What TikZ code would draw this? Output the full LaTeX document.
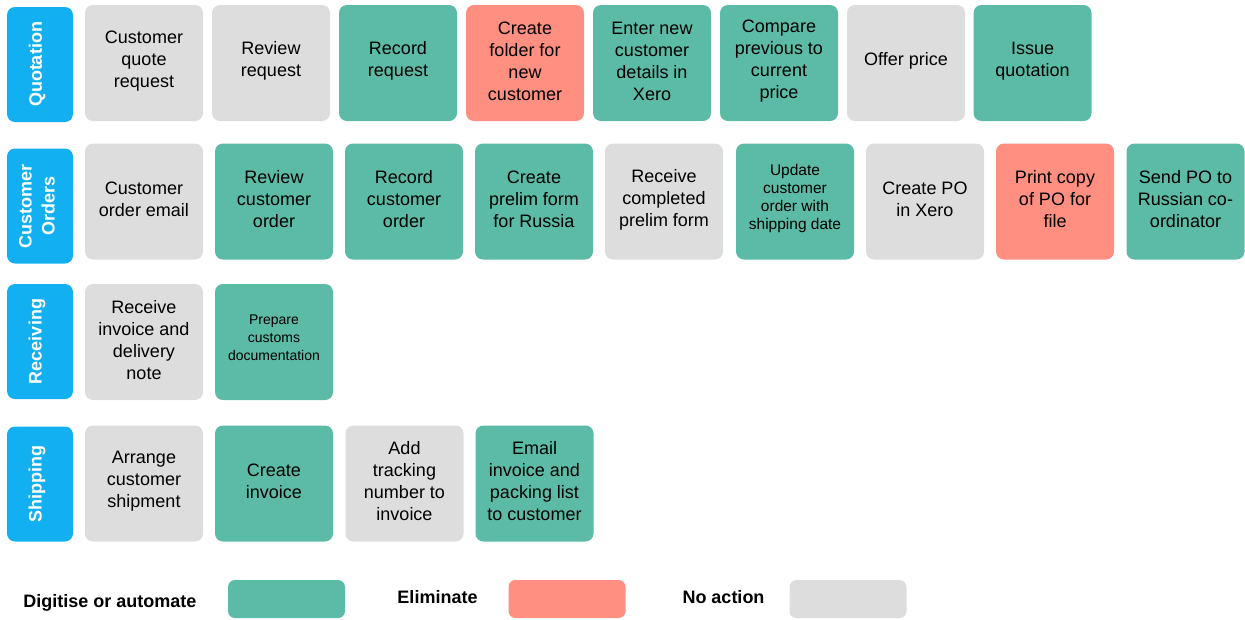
\documentclass[tikz,border=0pt]{standalone}
\usepackage{fontspec}
\setmainfont{Liberation Sans}
\definecolor{lane}{HTML}{12B0F0}
\definecolor{dig}{HTML}{5BBBA6}
\definecolor{elim}{HTML}{FF8F80}
\definecolor{noact}{HTML}{DDDDDD}
\tikzset{
  box/.style={rounded corners=8pt, draw=none, minimum width=118pt, minimum height=116pt, inner sep=0pt},
  txt/.style={align=center, inner sep=0pt, text=black, font=\fontsize{18}{22}\selectfont},
  small/.style={font=\fontsize{15.5}{18}\selectfont, yshift=1pt},
  tiny/.style={font=\fontsize{14}{18}\selectfont, yshift=2.5pt},
  lanebox/.style={rounded corners=8pt, draw=none, fill=lane, minimum width=66pt, minimum height=115pt, inner sep=0pt},
  lanetxt/.style={align=center, inner sep=0pt, text=white, rotate=90, font=\bfseries\fontsize{18}{23}\selectfont},
  legtxt/.style={inner sep=0pt, text=black, font=\bfseries\fontsize{18}{21}\selectfont},
  legbox/.style={rounded corners=7pt, draw=none, minimum width=117pt, minimum height=38pt, inner sep=0pt}
}
\newcommand\bx[6][]{\node[box,fill=#5] (#2) at (#3,#4) {};
  \node[txt,#1] (#2t) at ([yshift=2pt]#2.center) {#6};}
\begin{document}
\begin{tikzpicture}[x=1pt,y=-1pt]
\useasboundingbox (0,0) rectangle (1245,619);
% lanes
\node[lanebox] (l1) at (40,64.5) {};
\node[lanetxt] (l1t) at (37,64.5) {Quotation};
\node[lanebox] (l2) at (40,206) {};
\node[lanetxt] (l2t) at (37,206) {Customer\\Orders};
\node[lanebox] (l3) at (40,341.5) {};
\node[lanetxt] (l3t) at (37,341.5) {Receiving};
\node[lanebox] (l4) at (40,484) {};
\node[lanetxt] (l4t) at (37,484) {Shipping};
% row 1
\bx{a1}{144}{63}{noact}{Customer\\quote\\request}
\bx{a2}{271}{63}{noact}{Review\\request}
\bx{a3}{398}{63}{dig}{Record\\request}
\bx{a4}{525}{63}{elim}{Create\\folder for\\new\\customer}
\bx{a5}{652}{63}{dig}{Enter new\\customer\\details in\\Xero}
\bx{a6}{779}{63}{dig}{Compare\\previous to\\current\\price}
\bx{a7}{906}{63}{noact}{Offer price}
\bx{a8}{1032.5}{63}{dig}{Issue\\quotation}
% row 2
\bx{b1}{144}{201.5}{noact}{Customer\\order email}
\bx{b2}{274}{201.5}{dig}{Review\\customer\\order}
\bx{b3}{404}{201.5}{dig}{Record\\customer\\order}
\bx{b4}{534}{201.5}{dig}{Create\\prelim form\\for Russia}
\bx{b5}{664}{201.5}{noact}{Receive\\completed\\prelim form}
\bx[small]{b6}{795}{201.5}{dig}{Update\\customer\\order with\\shipping date}
\bx{b7}{925}{201.5}{noact}{Create PO\\in Xero}
\bx{b8}{1055}{201.5}{elim}{Print copy\\of PO for\\file}
\bx{b9}{1185.5}{201.5}{dig}{Send PO to\\Russian co-\\ordinator}
% row 3
\bx{c1}{144}{342}{noact}{Receive\\invoice and\\delivery\\note}
\bx[tiny]{c2}{274}{342}{dig}{Prepare\\customs\\documentation}
% row 4
\bx{d1}{144}{483.5}{noact}{Arrange\\customer\\shipment}
\bx{d2}{274}{483.5}{dig}{Create\\invoice}
\bx{d3}{404.5}{483.5}{noact}{Add\\tracking\\number to\\invoice}
\bx{d4}{534.5}{483.5}{dig}{Email\\invoice and\\packing list\\to customer}
% legend
\node[legtxt] (k1) at (110,603) {Digitise or automate};
\node[legbox,fill=dig] (k1b) at (286.5,599) {};
\node[legtxt] (k2) at (437.5,597) {Eliminate};
\node[legbox,fill=elim] (k2b) at (567,599) {};
\node[legtxt] (k3) at (723.5,597) {No action};
\node[legbox,fill=noact] (k3b) at (848,599) {};
\end{tikzpicture}
\end{document}
